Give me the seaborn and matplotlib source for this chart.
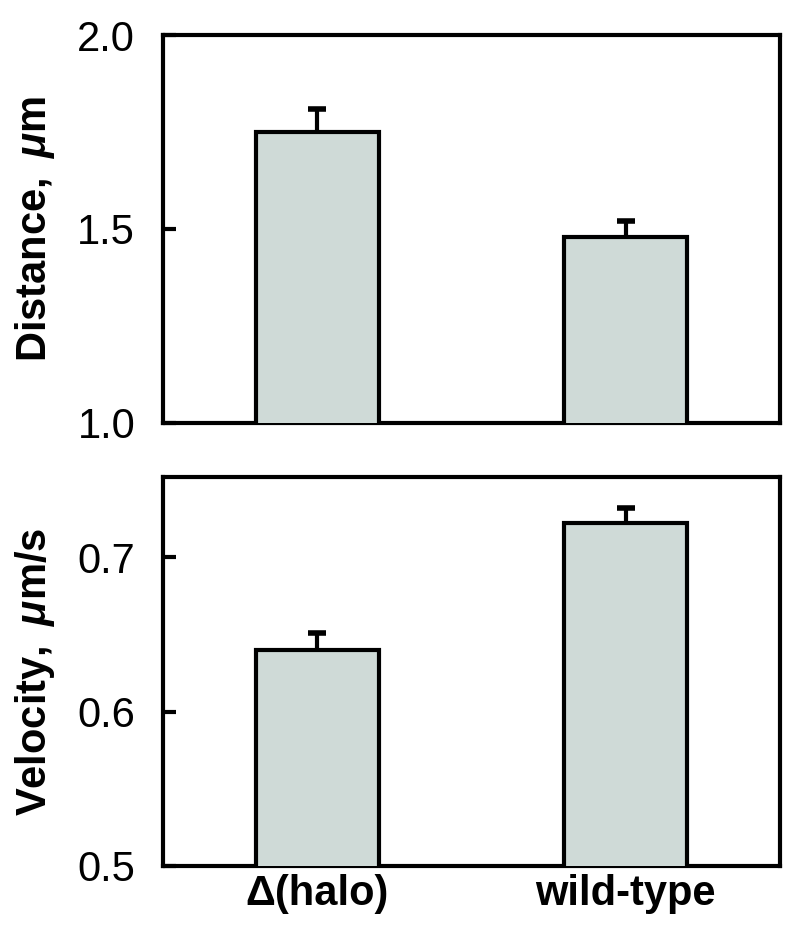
import matplotlib
matplotlib.use("Agg")
import matplotlib.pyplot as plt
import numpy as np
import pandas as pd
import seaborn as sns

strains = ["Δ(halo)", "wild-type"]
distance = [1.75, 1.48]
distance_err = [0.06, 0.04]
velocity = [0.64, 0.722]
velocity_err = [0.011, 0.01]

sns.set_theme(style="white")
plt.rcParams["font.family"] = ["Liberation Sans", "DejaVu Sans"]
plt.rcParams["text.color"] = "black"
plt.rcParams["axes.labelcolor"] = "black"
plt.rcParams["xtick.color"] = "black"
plt.rcParams["ytick.color"] = "black"
plt.rcParams["mathtext.fontset"] = "custom"
plt.rcParams["mathtext.rm"] = "Liberation Sans:bold"
plt.rcParams["mathtext.bf"] = "Liberation Sans:bold"
plt.rcParams["mathtext.it"] = "Liberation Sans:bold:italic"

BAR = "#cfdad7"
FS = 30
LW = 3

fig = plt.figure(figsize=(7.94, 9.49), dpi=100)
ax1 = fig.add_axes([0.2053, 0.5543, 0.7767, 0.4088])
ax2 = fig.add_axes([0.2053, 0.0875, 0.7767, 0.4099])


def panel(ax, vals, errs, ylim, ticks, label):
    df = pd.DataFrame({"strain": strains, "value": vals})
    sns.barplot(data=df, x="strain", y="value", ax=ax, color=BAR, width=0.4,
                edgecolor="black", linewidth=LW, saturation=1, errorbar=None)
    for p in ax.patches:
        p.set_zorder(3)
    # upper error only
    _, caps, _ = ax.errorbar(np.arange(len(vals)), vals, yerr=[np.zeros(len(errs)), errs],
                             fmt="none", ecolor="black", elinewidth=LW, capsize=6.5,
                             capthick=4, zorder=2)
    caps[0].set_visible(False)
    ax.set_xlim(-0.5, 1.5)
    ax.set_ylim(*ylim)
    ax.set_yticks(ticks)
    ax.set_yticklabels([f"{t:.1f}" for t in ticks], fontsize=FS)
    ax.set_ylabel(label, fontsize=FS, labelpad=15)
    ax.set_xlabel("")
    ax.tick_params(axis="y", left=True, direction="in", length=9, width=LW, pad=20)
    ax.tick_params(axis="x", bottom=False, length=0, pad=6)
    for s in ax.spines.values():
        s.set_linewidth(LW)
        s.set_color("black")
        s.set_visible(True)


panel(ax1, distance, distance_err, (1.0, 2.0), [1.0, 1.5, 2.0], r"$\mathrm{Distance,\ }\mathit{\mu}\mathrm{m}$")
panel(ax2, velocity, velocity_err, (0.5, 0.752), [0.5, 0.6, 0.7], r"$\mathrm{Velocity,\ }\mathit{\mu}\mathrm{m/s}$")

ax1.set_xticklabels([])
ax2.set_xticklabels(strains, fontsize=FS, fontweight="bold")

fig.savefig("out.png", dpi=100)
